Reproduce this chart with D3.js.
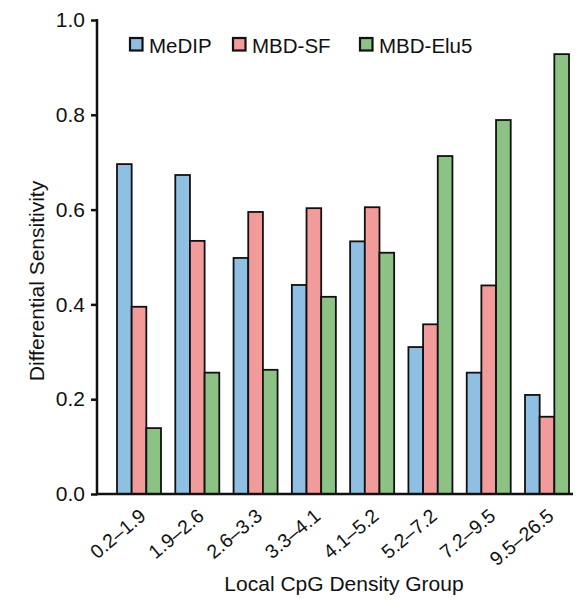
<!DOCTYPE html>
<html>
<head>
<meta charset="utf-8">
<script src="https://cdn.jsdelivr.net/npm/d3@7"></script>
<style>
body{margin:0;background:#fff;}
text{font-family:"Liberation Sans",Arial,sans-serif;fill:#111;}
</style>
</head>
<body>
<svg id="chart" width="579" height="600"></svg>
<script>
const categories = ["0.2\u20131.9","1.9\u20132.6","2.6\u20133.3","3.3\u20134.1","4.1\u20135.2","5.2\u20137.2","7.2\u20139.5","9.5\u201326.5"];
const seriesNames = ["MeDIP","MBD-SF","MBD-Elu5"];
const medip   = [0.696,0.673,0.498,0.441,0.533,0.310,0.256,0.209];
const mbdSF   = [0.395,0.534,0.595,0.603,0.605,0.358,0.440,0.163];
const mbdElu5 = [0.139,0.256,0.262,0.416,0.509,0.713,0.789,0.928];
const yTicks  = [0.0,0.2,0.4,0.6,0.8,1.0];
const colors  = ["#8fbfe2","#f19c9b","#8cc385"];

const values = [medip, mbdSF, mbdElu5];
const svg = d3.select("#chart");

const y = d3.scaleLinear().domain([0,1]).range([494,20]);
const x = d3.scaleBand().domain(categories).range([110,576]).paddingInner(0.245).paddingOuter(0.12);
const xs = d3.scaleBand().domain(seriesNames).range([0,x.bandwidth()]);

// bars
categories.forEach((c,i)=>{
  seriesNames.forEach((s,j)=>{
    svg.append("rect")
      .attr("x", x(c)+xs(s))
      .attr("y", y(values[j][i]))
      .attr("width", xs.bandwidth())
      .attr("height", y(0)-y(values[j][i]))
      .attr("fill", colors[j])
      .attr("stroke","#111")
      .attr("stroke-width",1.8);
  });
});

// y axis
const yAxis = d3.axisLeft(y).tickValues(yTicks).tickFormat(d3.format(".1f")).tickSize(6).tickPadding(6);
const gy = svg.append("g").attr("transform","translate(97,0)").call(yAxis);
gy.select(".domain").remove();
gy.selectAll(".tick line").attr("stroke","#111").attr("stroke-width",2.5);
gy.selectAll(".tick text").attr("font-size",21).attr("font-family","Liberation Sans, Arial, sans-serif").attr("fill","#111");
svg.append("line").attr("x1",97).attr("x2",97).attr("y1",y(1)-1).attr("y2",y(0)+1.2).attr("stroke","#111").attr("stroke-width",2.5);

// x axis
const xAxis = d3.axisBottom(x).tickSize(0).tickPadding(0);
const gx = svg.append("g").attr("transform","translate(0,494)").call(xAxis);
gx.select(".domain").remove();
gx.selectAll(".tick text")
  .attr("font-size",19.5).attr("font-family","Liberation Sans, Arial, sans-serif").attr("fill","#111")
  .attr("text-anchor","end")
  .attr("dy",null).attr("y",0)
  .attr("transform","translate(8,24) rotate(-40)");
svg.append("line").attr("x1",96).attr("x2",573).attr("y1",494).attr("y2",494).attr("stroke","#111").attr("stroke-width",2.5);

// axis titles
svg.append("text").attr("x",344).attr("y",591).attr("text-anchor","middle").attr("font-size",21).text("Local CpG Density Group");
svg.append("text").attr("transform","translate(44,281) rotate(-90)").attr("text-anchor","middle").attr("font-size",21).text("Differential Sensitivity");

// legend
const legendX = [129,232,359];
seriesNames.forEach((s,j)=>{
  const g = svg.append("g").attr("transform",`translate(${legendX[j]},37)`);
  g.append("rect").attr("x",1).attr("y",1).attr("width",12.5).attr("height",12.5).attr("fill",colors[j]).attr("stroke","#111").attr("stroke-width",2.2);
  g.append("text").attr("x",20).attr("y",15.5).attr("font-size",20.5).text(s);
});
</script>
</body>
</html>
